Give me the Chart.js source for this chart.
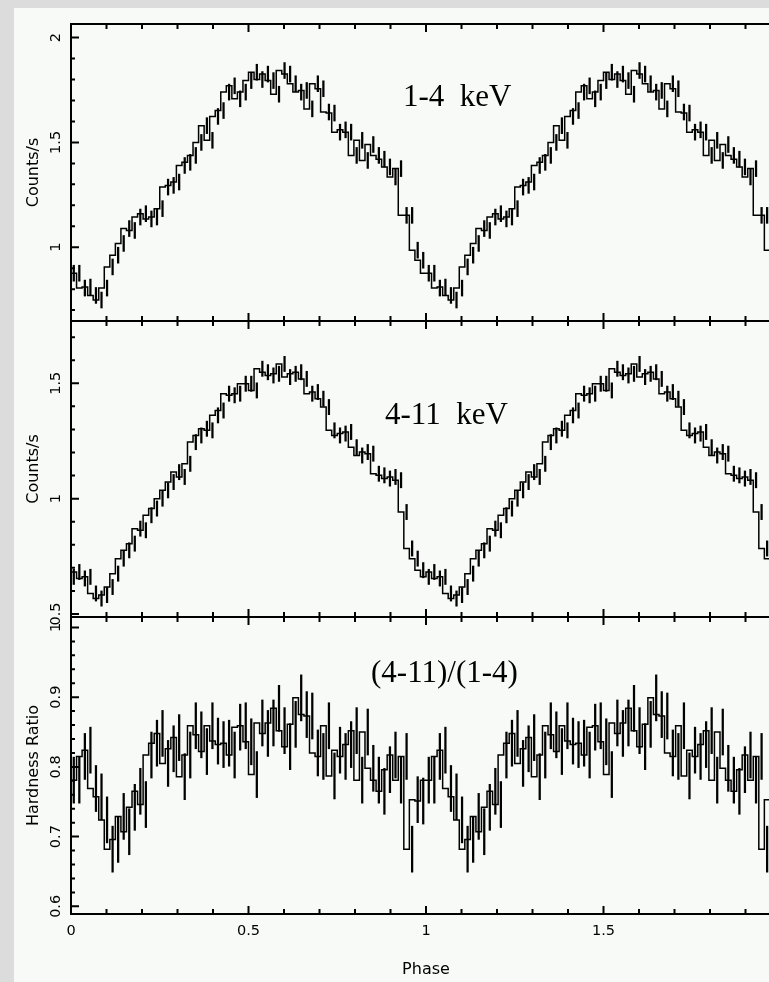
<!DOCTYPE html>
<html>
<head>
<meta charset="utf-8">
<script src="https://cdn.jsdelivr.net/npm/chart.js@4.4.1/dist/chart.umd.min.js"></script>
<style>
  html, body { margin: 0; padding: 0; background: #dcdcdc; overflow: hidden; }
  #sheet { position: absolute; left: 14px; top: 8px; width: 755px; height: 974px; background: #f8faf7; }
  canvas { position: absolute; left: 0; top: 0; }
</style>
</head>
<body>
<div id="sheet"></div>
<canvas id="soft" width="800" height="982"></canvas>
<canvas id="hard" width="800" height="982"></canvas>
<canvas id="ratio" width="800" height="982"></canvas>
<script>
// folded light curve, 64 phase bins per cycle
const nBins = 64;

const rate14 = [
  0.876, 0.876, 0.805, 0.810, 0.770, 0.748, 0.805, 0.906, 0.962, 1.018, 1.089, 1.080, 1.144, 1.160, 1.135, 1.144,
  1.184, 1.287, 1.295, 1.311, 1.390, 1.405, 1.438, 1.500, 1.580, 1.510, 1.624, 1.652, 1.740, 1.770, 1.708, 1.740,
  1.795, 1.835, 1.800, 1.826, 1.795, 1.730, 1.843, 1.826, 1.780, 1.740, 1.748, 1.660, 1.780, 1.756, 1.645, 1.640,
  1.549, 1.560, 1.549, 1.438, 1.510, 1.414, 1.490, 1.438, 1.420, 1.383, 1.335, 1.375, 1.152, 1.152, 0.986, 0.938
];

const rate411 = [
  0.661, 0.682, 0.654, 0.661, 0.589, 0.567, 0.582, 0.617, 0.675, 0.740, 0.776, 0.805, 0.870, 0.863, 0.928, 0.957,
  1.000, 1.036, 1.072, 1.115, 1.094, 1.151, 1.245, 1.274, 1.303, 1.296, 1.361, 1.382, 1.455, 1.448, 1.455, 1.498,
  1.498, 1.469, 1.563, 1.548, 1.534, 1.541, 1.584, 1.527, 1.541, 1.548, 1.519, 1.455, 1.462, 1.433, 1.397, 1.296,
  1.274, 1.282, 1.289, 1.223, 1.187, 1.202, 1.195, 1.108, 1.101, 1.087, 1.094, 1.080, 0.942, 0.784, 0.740, 0.690
];

const hardness = [
  0.781, 0.781, 0.815, 0.824, 0.769, 0.757, 0.724, 0.682, 0.696, 0.729, 0.707, 0.742, 0.765, 0.746, 0.817, 0.834,
  0.848, 0.805, 0.826, 0.842, 0.786, 0.817, 0.859, 0.846, 0.822, 0.859, 0.837, 0.832, 0.834, 0.817, 0.857, 0.859,
  0.836, 0.789, 0.863, 0.848, 0.863, 0.884, 0.852, 0.829, 0.861, 0.899, 0.875, 0.873, 0.820, 0.815, 0.859, 0.787,
  0.824, 0.815, 0.832, 0.852, 0.781, 0.850, 0.798, 0.781, 0.765, 0.796, 0.817, 0.781, 0.815, 0.682, 0.753, 0.751
];

// 1-sigma errors
const err14 = 0.038;
const err411 = 0.033;
const errHR = 0.033;

const phaseLabels = [0, 0.5, 1, 1.5, 2];
const ticks14 = [1, 1.5, 2];
const ticks411 = [0.5, 1, 1.5];
const ticksHR = [0.6, 0.7, 0.8, 0.9, 1];

// the profile is plotted twice, phase 0-2
const twoCycles = a => a.concat(a);

const TICK_FONT = '14.5px "DejaVu Sans"';
const TITLE_FONT = '16px "DejaVu Sans"';
const LABEL_FONT = '31px "Liberation Serif"';

function framePlugin(p) {
  return {
    id: 'frame',
    afterDatasetsDraw(chart) {
      const { ctx, chartArea: a, scales: { x, y } } = chart;
      ctx.save();
      ctx.strokeStyle = '#000';
      ctx.fillStyle = '#000';
      ctx.lineWidth = 2;
      ctx.strokeRect(a.left, a.top, a.right - a.left, a.bottom - a.top);

      ctx.beginPath();
      // phase ticks every 0.1, long ones each half cycle
      for (let k = 0; k <= 20; k++) {
        const px = x.getPixelForValue(k / 10);
        const len = k % 5 === 0 ? 8 : 5;
        ctx.moveTo(px, a.top); ctx.lineTo(px, a.top + len);
        ctx.moveTo(px, a.bottom); ctx.lineTo(px, a.bottom - len);
      }
      const first = Math.ceil(p.min / p.minor - 1e-6);
      for (let k = first; k * p.minor <= p.max + 1e-9; k++) {
        const v = k * p.minor;
        const py = y.getPixelForValue(v);
        const r = v / p.major;
        const len = Math.abs(r - Math.round(r)) < 1e-6 ? 8 : 4;
        ctx.moveTo(a.left, py); ctx.lineTo(a.left + len, py);
        ctx.moveTo(a.right, py); ctx.lineTo(a.right - len, py);
      }
      ctx.stroke();

      // y tick labels, written upwards
      ctx.font = TICK_FONT;
      ctx.textAlign = 'center';
      ctx.textBaseline = 'alphabetic';
      p.ticks.forEach(v => {
        ctx.save();
        ctx.translate(a.left - 11, y.getPixelForValue(v));
        ctx.rotate(-Math.PI / 2);
        ctx.fillText(String(v), 0, 0);
        ctx.restore();
      });

      ctx.save();
      ctx.font = TITLE_FONT;
      ctx.translate(38, (a.top + a.bottom) / 2);
      ctx.rotate(-Math.PI / 2);
      ctx.fillText(p.title, 0, 0);
      ctx.restore();

      ctx.font = LABEL_FONT;
      ctx.textAlign = 'left';
      ctx.fillText(p.label, p.labelX, p.labelY);

      if (p.phaseAxis) {
        ctx.font = TICK_FONT;
        ctx.textAlign = 'center';
        phaseLabels.forEach(v => ctx.fillText(String(v), x.getPixelForValue(v), a.bottom + 21));
        ctx.font = TITLE_FONT;
        ctx.fillText('Phase', (a.left + x.getPixelForValue(2)) / 2, a.bottom + 60);
      }
      ctx.restore();
    }
  };
}

function makePanel(id, p) {
  const vals = twoCycles(p.values);
  const steps = vals.map((v, i) => ({ x: i / nBins, y: v }));
  const bars = vals.map((v, i) => ({ x: (i + 0.5) / nBins, y: [v - p.err, v + p.err] }));
  return new Chart(document.getElementById(id), {
    type: 'line',
    data: {
      datasets: [
        { type: 'line', data: steps, stepped: 'after', borderColor: '#000', borderWidth: 1.5,
          pointRadius: 0, fill: false },
        { type: 'bar', data: bars, backgroundColor: '#000', borderWidth: 0, barThickness: 1.6 }
      ]
    },
    options: {
      responsive: false,
      animation: false,
      events: [],
      layout: { padding: p.pad },
      plugins: { legend: { display: false }, tooltip: { enabled: false } },
      scales: {
        x: { type: 'linear', min: 0, max: 2, offset: false, display: false },
        y: { type: 'linear', min: p.min, max: p.max, display: false }
      }
    },
    plugins: [framePlugin(p)]
  });
}

makePanel('soft', {
  values: rate14, err: err14, min: 0.648, max: 2.065, minor: 0.1, major: 0.5, ticks: ticks14,
  title: 'Counts/s', label: '1-4  keV', labelX: 403, labelY: 106,
  pad: { left: 71, right: 19, top: 24, bottom: 661 }
});

makePanel('hard', {
  values: rate411, err: err411, min: 0.487, max: 1.77, minor: 0.1, major: 0.5, ticks: ticks411,
  title: 'Counts/s', label: '4-11  keV', labelX: 385, labelY: 424,
  pad: { left: 71, right: 19, top: 321, bottom: 365 }
});

makePanel('ratio', {
  values: hardness, err: errHR, min: 0.589, max: 1.015, minor: 0.02, major: 0.1, ticks: ticksHR,
  title: 'Hardness Ratio', label: '(4-11)/(1-4)', labelX: 371, labelY: 682, phaseAxis: true,
  pad: { left: 71, right: 19, top: 617, bottom: 68 }
});
</script>
</body>
</html>
